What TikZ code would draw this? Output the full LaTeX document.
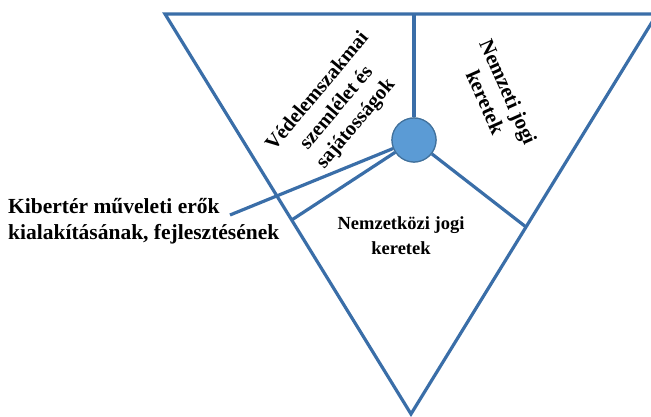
\documentclass[tikz,border=0pt]{standalone}
\usepackage{fontspec}
\setmainfont{Liberation Serif}
\usetikzlibrary{calc}
\definecolor{lineblue}{HTML}{3A6EA8}
\definecolor{circfill}{HTML}{5B9BD5}
\definecolor{circdraw}{HTML}{41719C}
\tikzset{
  frame/.style={draw=lineblue, line width=3.2pt, line join=miter},
  conn/.style={draw=lineblue, line width=3.2pt},
  lbl/.style={font=\bfseries\fontsize{20.5}{25}\selectfont, align=center, inner sep=0pt, text=black},
  hub/.style={circle, fill=circfill, draw=circdraw, line width=1.2pt, minimum size=44pt, inner sep=0pt}
}
\begin{document}
\begin{tikzpicture}[x=1pt,y=-1pt]
\useasboundingbox (0,0) rectangle (651,417);
\begin{scope}
\clip (0,0) rectangle (651,417);
\coordinate (A) at (165,14);
\coordinate (B) at (657,14);
\coordinate (C) at (411,414);
\coordinate (T) at (414,14);
\coordinate (L) at ($(A)!0.515!(C)$);
\coordinate (R) at ($(B)!0.5325!(C)$);
\coordinate (E) at (230,215);
\draw[frame] (A) -- (B) -- (C) -- cycle;
\node[hub] (H) at (414,140) {};
\draw[conn] (T) -- (H.north);
\draw[conn] (H) -- (L);
\draw[conn] (H) -- (R);
\draw[conn] (H) -- (E);
\node[hub] at (H) {};
\end{scope}
\node[lbl, rotate=50] (v) at (337,108) {Védelemszakmai\\szemlélet és\\sajátosságok};
\node[lbl, rotate=-66, font=\bfseries\fontsize{21}{25}\selectfont] (n) at (497,97) {Nemzeti jogi\\keretek};
\node[lbl, font=\bfseries\fontsize{18.5}{25}\selectfont] (k) at (401,236) {Nemzetközi jogi\\keretek};
\node[lbl, align=left, anchor=west, font=\bfseries\fontsize{21.5}{26}\selectfont] (kib) at (8,221) {Kibertér műveleti erők\\kialakításának, fejlesztésének};
\end{tikzpicture}
\end{document}
